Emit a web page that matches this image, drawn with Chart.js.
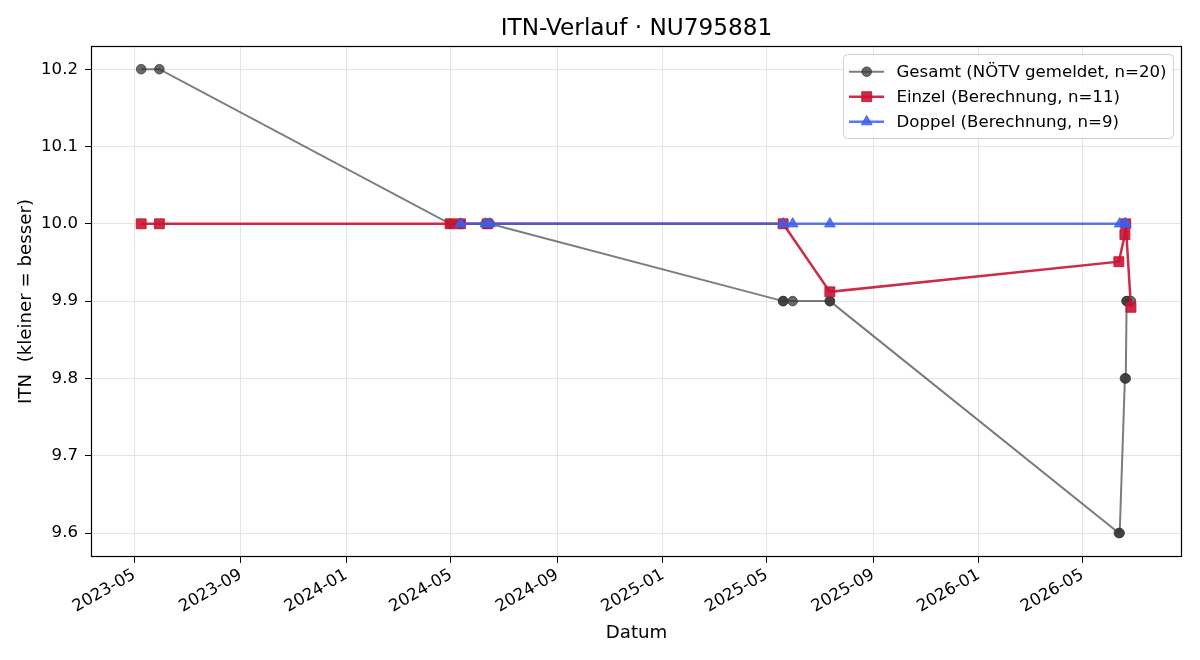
<!DOCTYPE html>
<html>
<head>
<meta charset="utf-8">
<script src="https://cdn.jsdelivr.net/npm/chart.js@4.4.1/dist/chart.umd.min.js"></script>
<style>
  html, body { margin: 0; padding: 0; background: #fff; }
  #wrap { width: 1200px; height: 660px; }
</style>
</head>
<body>
<div id="wrap"><canvas id="itn" width="1200" height="660"></canvas></div>
<script>
// ITN history for NU795881
const gesamtDates = ['2023-05-09', '2023-05-30', '2024-04-30', '2024-05-12', '2024-05-12',
    '2024-06-10', '2024-06-12', '2024-06-15', '2025-05-20', '2025-05-20',
    '2025-05-31', '2025-07-13', '2025-07-13', '2026-06-12', '2026-06-13',
    '2026-06-19', '2026-06-20', '2026-06-21', '2026-06-21', '2026-06-26']
const gesamtITN = [10.2, 10.2, 10.0, 10.0, 10.0,
    10.0, 10.0, 10.0, 9.9, 9.9,
    9.9, 9.9, 9.9, 9.6, 9.6,
    9.8, 9.8, 9.9, 9.9, 9.9]

const einzelDates = ['2023-05-09', '2023-05-30', '2024-04-30', '2024-05-12', '2024-06-12',
    '2025-05-20', '2025-07-13', '2026-06-12', '2026-06-19', '2026-06-20', '2026-06-26']
const einzelITN = [10.0, 10.0, 10.0, 10.0, 10.0, 10.0, 9.912, 9.951, 9.986, 10.0, 9.892]

const doppelDates = ['2024-05-12', '2024-06-10', '2024-06-15', '2025-05-20', '2025-05-31',
    '2025-07-13', '2026-06-13', '2026-06-19', '2026-06-20']
const doppelITN = [10.0, 10.0, 10.0, 10.0, 10.0, 10.0, 10.0, 10.0, 10.0]

const xTickLabels = ['2023-05', '2023-09', '2024-01', '2024-05', '2024-09',
    '2025-01', '2025-05', '2025-09', '2026-01', '2026-05']
const yTickValues = [9.6, 9.7, 9.8, 9.9, 10.0, 10.1, 10.2]

const xRange = ['2023-03-12', '2026-08-24']
const yRange = [9.569, 10.23]

const TITLE = 'ITN-Verlauf · NU795881'
const FONT = 'DejaVu Sans'

function toMs(s) {
    const p = s.split('-').map(Number)
    return Date.UTC(p[0], p[1] - 1, p[2] || 1)
}

function fmtMonth(ms) {
    const d = new Date(ms)
    return d.getUTCFullYear() + '-' + String(d.getUTCMonth() + 1).padStart(2, '0')
}

function points(dates, values) {
    return dates.map((d, i) => ({ x: toMs(d), y: values[i] }))
}

const series = [
    {
        label: 'Gesamt (NÖTV gemeldet, n=20)',
        data: points(gesamtDates, gesamtITN),
        line: 'rgba(68,68,68,0.7)', fill: 'rgba(55,55,55,0.75)',
        width: 2, style: 'circle', radius: 4.8, order: 3
    },
    {
        label: 'Einzel (Berechnung, n=11)',
        data: points(einzelDates, einzelITN),
        line: 'rgba(200,20,50,0.9)', fill: 'rgba(200,20,50,0.9)',
        width: 2.5, style: 'rect', radius: 7, order: 2
    },
    {
        label: 'Doppel (Berechnung, n=9)',
        data: points(doppelDates, doppelITN),
        line: 'rgba(60,95,235,0.85)', fill: 'rgba(60,95,235,0.85)',
        width: 2.5, style: 'triangle', radius: 6.2, order: 1
    }
]

// title over the axes, frame round the plot area, legend inside the axes
const framePlugin = {
    id: 'frameAndLegend',
    afterDraw(chart) {
        const ctx = chart.ctx
        const a = chart.chartArea
        ctx.save()
        ctx.fillStyle = '#000'
        ctx.font = '23.2px "' + FONT + '"'
        ctx.textAlign = 'center'
        ctx.textBaseline = 'middle'
        ctx.fillText(TITLE, (a.left + a.right) / 2, 29)

        ctx.strokeStyle = '#000'
        ctx.lineWidth = 1.2
        ctx.strokeRect(a.left + 0.5, a.top + 0.5, a.right - a.left - 1, a.bottom - a.top - 1)

        // legend box
        const bx = 843.5, by = 54.5, bw = 330, bh = 84, r = 4
        ctx.beginPath()
        ctx.moveTo(bx + r, by)
        ctx.arcTo(bx + bw, by, bx + bw, by + bh, r)
        ctx.arcTo(bx + bw, by + bh, bx, by + bh, r)
        ctx.arcTo(bx, by + bh, bx, by, r)
        ctx.arcTo(bx, by, bx + bw, by, r)
        ctx.closePath()
        ctx.fillStyle = 'rgba(255,255,255,0.8)'
        ctx.fill()
        ctx.strokeStyle = '#d0d0d0'
        ctx.lineWidth = 1
        ctx.stroke()

        series.forEach((s, i) => {
            const y = 71.7 + i * 25
            ctx.beginPath()
            ctx.moveTo(849, y)
            ctx.lineTo(884, y)
            ctx.strokeStyle = s.line
            ctx.lineWidth = s.width
            ctx.stroke()
            ctx.fillStyle = s.fill
            ctx.strokeStyle = s.fill
            ctx.lineWidth = 1
            Chart.helpers.drawPoint(ctx, { pointStyle: s.style, radius: s.radius, rotation: 0, borderWidth: 1 }, 866.7, y)
            ctx.fillStyle = '#000'
            ctx.font = '16.6px "' + FONT + '"'
            ctx.textAlign = 'left'
            ctx.textBaseline = 'middle'
            ctx.fillText(s.label, 896.5, y + 1)
        })
        ctx.restore()
    }
}

const gridOpts = {
    color: '#e4e4e4',
    lineWidth: 1,
    tickColor: '#000',
    tickLength: 6,
    drawTicks: true
}

new Chart(document.getElementById('itn'), {
    type: 'line',
    data: {
        datasets: series.map(s => ({
            label: s.label,
            data: s.data,
            borderColor: s.line,
            backgroundColor: s.fill,
            borderWidth: s.width,
            pointStyle: s.style,
            pointRadius: s.radius,
            pointHoverRadius: s.radius,
            pointBorderWidth: 1,
            pointBackgroundColor: s.fill,
            pointBorderColor: s.fill,
            tension: 0,
            order: s.order
        }))
    },
    options: {
        responsive: false,
        animation: false,
        devicePixelRatio: 1,
        parsing: false,
        layout: { padding: { top: 46, right: 18, bottom: 0, left: 0 } },
        plugins: {
            legend: { display: false },
            tooltip: { enabled: false },
            title: { display: false }
        },
        scales: {
            x: {
                type: 'linear',
                min: toMs(xRange[0]),
                max: toMs(xRange[1]),
                afterBuildTicks(scale) {
                    scale.ticks = xTickLabels.map(t => ({ value: toMs(t) }))
                },
                afterFit(scale) {
                    scale.height = 103
                },
                ticks: {
                    callback: v => fmtMonth(v),
                    autoSkip: false,
                    minRotation: 30,
                    maxRotation: 30,
                    padding: 2,
                    color: '#000',
                    font: { family: FONT, size: 16.6 }
                },
                grid: gridOpts,
                border: { display: false },
                title: {
                    display: true,
                    text: 'Datum',
                    color: '#000',
                    font: { family: FONT, size: 18.2 },
                    padding: { top: 0, bottom: 16.2 }
                }
            },
            y: {
                type: 'linear',
                min: yRange[0],
                max: yRange[1],
                afterBuildTicks(scale) {
                    scale.ticks = yTickValues.map(v => ({ value: v }))
                },
                afterFit(scale) {
                    scale.width = 91
                },
                ticks: {
                    callback: v => v.toFixed(1),
                    padding: 7,
                    color: '#000',
                    font: { family: FONT, size: 16.6 }
                },
                grid: gridOpts,
                border: { display: false },
                title: {
                    display: true,
                    text: 'ITN  (kleiner = besser)',
                    color: '#000',
                    font: { family: FONT, size: 18.2 },
                    padding: { top: 15, bottom: 0 }
                }
            }
        }
    },
    plugins: [framePlugin]
})
</script>
</body>
</html>
